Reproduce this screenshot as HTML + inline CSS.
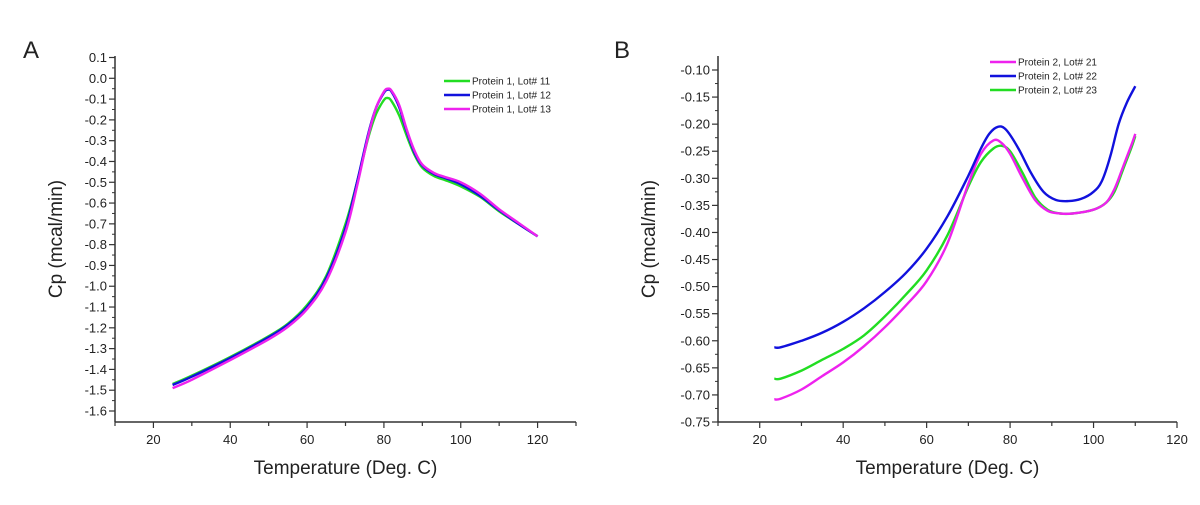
<!DOCTYPE html>
<html><head><meta charset="utf-8">
<style>
html,body{margin:0;padding:0;background:#fff;width:1200px;height:505px;overflow:hidden}
svg{display:block}
text{font-family:"Liberation Sans",Arial,sans-serif;fill:#222}
</style></head>
<body>
<svg id="s" width="1200" height="505">
<text x="23" y="58" font-size="24">A</text>
<text x="614" y="58" font-size="24">B</text>
</svg>
<script>
// Panel A data
const aX = [25,30,40,50,55,60,65,70,73,76,78,80,81,82,84,86,88,90,93,96,100,105,110,115,120];
const aLot11 = [-1.47,-1.43,-1.34,-1.24,-1.18,-1.09,-0.95,-0.70,-0.50,-0.28,-0.17,-0.105,-0.095,-0.11,-0.18,-0.28,-0.37,-0.43,-0.47,-0.49,-0.52,-0.57,-0.64,-0.70,-0.76];
const aLot12 = [-1.475,-1.435,-1.345,-1.245,-1.185,-1.10,-0.96,-0.72,-0.50,-0.26,-0.14,-0.07,-0.055,-0.065,-0.14,-0.26,-0.36,-0.42,-0.46,-0.48,-0.51,-0.565,-0.635,-0.70,-0.76];
const aLot13 = [-1.49,-1.45,-1.355,-1.255,-1.195,-1.11,-0.975,-0.74,-0.52,-0.27,-0.14,-0.065,-0.05,-0.06,-0.13,-0.25,-0.35,-0.415,-0.455,-0.475,-0.50,-0.555,-0.63,-0.695,-0.76];
const aYTicks = ["0.1","0.0","-0.1","-0.2","-0.3","-0.4","-0.5","-0.6","-0.7","-0.8","-0.9","-1.0","-1.1","-1.2","-1.3","-1.4","-1.5","-1.6"];
const aXTicks = [20,40,60,80,100,120];
// Panel B data
const bX = [23.5,25,30,35,40,45,50,55,60,65,70,73,76,78,80,83,86,89,92,95,100,103,105,107,109,110];
const bLot21 = [-0.708,-0.707,-0.690,-0.665,-0.640,-0.610,-0.575,-0.535,-0.490,-0.420,-0.310,-0.255,-0.230,-0.235,-0.255,-0.300,-0.340,-0.360,-0.365,-0.365,-0.358,-0.345,-0.320,-0.280,-0.240,-0.218];
const bLot22X = [23.5,25,30,35,40,45,50,55,60,65,70,73,75,77,79,82,85,88,91,94,97,100,102,104,106,108,110];
const bLot22 = [-0.612,-0.612,-0.600,-0.585,-0.565,-0.540,-0.510,-0.475,-0.430,-0.370,-0.295,-0.245,-0.218,-0.205,-0.210,-0.245,-0.290,-0.325,-0.340,-0.342,-0.338,-0.325,-0.305,-0.260,-0.200,-0.160,-0.130];
const bLot23 = [-0.670,-0.670,-0.655,-0.635,-0.615,-0.590,-0.555,-0.515,-0.470,-0.405,-0.315,-0.270,-0.245,-0.240,-0.250,-0.290,-0.335,-0.358,-0.365,-0.365,-0.358,-0.345,-0.325,-0.285,-0.245,-0.222];
const bYTicks = ["-0.10","-0.15","-0.20","-0.25","-0.30","-0.35","-0.40","-0.45","-0.50","-0.55","-0.60","-0.65","-0.70","-0.75"];
const bXTicks = [20,40,60,80,100,120];

const NS="http://www.w3.org/2000/svg";
const svg=document.getElementById('s');
function mk(tag,attrs,parent){const e=document.createElementNS(NS,tag);for(const k in attrs)e.setAttribute(k,attrs[k]);(parent||svg).appendChild(e);return e;}
function smooth(pts){let d="M"+pts[0][0].toFixed(1)+","+pts[0][1].toFixed(1);
 for(let i=0;i<pts.length-1;i++){const p0=pts[Math.max(0,i-1)],p1=pts[i],p2=pts[i+1],p3=pts[Math.min(pts.length-1,i+2)];
 const c1=[p1[0]+(p2[0]-p0[0])/6,p1[1]+(p2[1]-p0[1])/6],c2=[p2[0]-(p3[0]-p1[0])/6,p2[1]-(p3[1]-p1[1])/6];
 d+=" C"+c1[0].toFixed(1)+","+c1[1].toFixed(1)+" "+c2[0].toFixed(1)+","+c2[1].toFixed(1)+" "+p2[0].toFixed(1)+","+p2[1].toFixed(1);}return d;}

function panel(cfg){
 const g=mk('g',{});
 
 
 const sx=v=>cfg.x0+(v-cfg.xmin)/(cfg.xmax-cfg.xmin)*(cfg.x1-cfg.x0);
 const sy=v=>cfg.yTop+(cfg.yTopVal-v)/(cfg.yTopVal-cfg.yBotVal)*(cfg.yBot-cfg.yTop);
 // axes
 const ya=mk('line',{x1:cfg.x0,y1:cfg.axisTop,x2:cfg.x0,y2:cfg.axisY,stroke:'#333','stroke-width':1.5},g);
 
 const xa=mk('line',{x1:cfg.x0,y1:cfg.axisY,x2:cfg.x1,y2:cfg.axisY,stroke:'#333','stroke-width':1.5},g);
 
 // y ticks
 cfg.yTicks.forEach(t=>{const v=parseFloat(t),y=sy(v);
  mk('line',{x1:cfg.x0-6,y1:y,x2:cfg.x0,y2:y,stroke:'#333','stroke-width':1.2},g);
  const tx=mk('text',{x:cfg.x0-8,y:y+4.5,'font-size':13,'text-anchor':'end'},g);tx.textContent=t;
  
  const mv=v-cfg.yStep/2,my=sy(mv);
  if(my<cfg.axisY-1) mk('line',{x1:cfg.x0-3,y1:my,x2:cfg.x0,y2:my,stroke:'#333','stroke-width':1},g);
 });
 // x ticks
 for(let v=cfg.xmin;v<=cfg.xmax+0.01;v+=10){const x=sx(v);
  mk('line',{x1:x,y1:cfg.axisY,x2:x,y2:cfg.axisY+(v%20===0?6:4),stroke:'#333','stroke-width':1.2},g);}
 cfg.xTicks.forEach(v=>{const tx=mk('text',{x:sx(v),y:cfg.axisY+22,'font-size':13,'text-anchor':'middle'},g);tx.textContent=v;
  });
 const xt=mk('text',{x:(cfg.x0+cfg.x1)/2,y:cfg.axisY+52,'font-size':19,'text-anchor':'middle'},g);xt.textContent="Temperature (Deg. C)";
 
 const yc=(cfg.axisTop+cfg.axisY)/2;
 const yt=mk('text',{x:cfg.yTitleX,y:yc,'font-size':19,'text-anchor':'middle',transform:`rotate(-90 ${cfg.yTitleX} ${yc})`},g);yt.textContent="Cp (mcal/min)";
 
 // series
 cfg.series.forEach(s=>{const pts=s.xs.map((x,i)=>[sx(x),sy(s.ys[i])]);
  const p=mk('path',{d:smooth(pts),fill:'none',stroke:s.color,'stroke-width':2.4,'stroke-linejoin':'round'},g);
  });
 // legend
 cfg.legendOrder.forEach((s,i)=>{const y=cfg.legY+i*14;
  const lg=mk('g',{},g);
  
  mk('line',{x1:cfg.legX,y1:y,x2:cfg.legX+26,y2:y,stroke:s.color,'stroke-width':2.4},lg);
  const t=mk('text',{x:cfg.legX+28,y:y+3.5,'font-size':10},lg);t.textContent=s.label;});
}

const A11={id:'series-lot-11',xs:aX,ys:aLot11,color:'#22dd22',label:'Protein 1, Lot# 11'};
const A12={id:'series-lot-12',xs:aX,ys:aLot12,color:'#1111dd',label:'Protein 1, Lot# 12'};
const A13={id:'series-lot-13',xs:aX,ys:aLot13,color:'#ee22ee',label:'Protein 1, Lot# 13'};
panel({name:'chart-a',x0:115,x1:576,xmin:10,xmax:130,axisTop:56,axisY:422,yTop:57.5,yBot:411,yTopVal:0.1,yBotVal:-1.6,yStep:0.1,
 yTicks:aYTicks,xTicks:aXTicks,yTitleX:62,series:[A11,A12,A13],legendOrder:[A11,A12,A13],legX:444,legY:81});

const B21={id:'series-lot-21',xs:bX,ys:bLot21,color:'#ee22ee',label:'Protein 2, Lot# 21'};
const B22={id:'series-lot-22',xs:bLot22X,ys:bLot22,color:'#1111dd',label:'Protein 2, Lot# 22'};
const B23={id:'series-lot-23',xs:bX,ys:bLot23,color:'#22dd22',label:'Protein 2, Lot# 23'};
panel({name:'chart-b',x0:718,x1:1177,xmin:10,xmax:120,axisTop:56,axisY:422,yTop:70,yBot:422,yTopVal:-0.10,yBotVal:-0.75,yStep:0.05,
 yTicks:bYTicks,xTicks:bXTicks,yTitleX:655,series:[B23,B21,B22],legendOrder:[B21,B22,B23],legX:990,legY:62});
</script>
</body></html>
